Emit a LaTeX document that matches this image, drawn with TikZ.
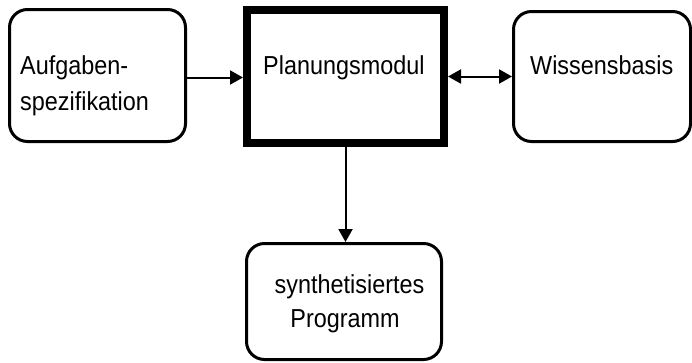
\documentclass[tikz,border=0pt]{standalone}
\usepackage{fontspec}
\setmainfont{Liberation Sans}[FakeStretch=0.9]
\usepackage{tikz}
\usetikzlibrary{arrows.meta}
\pgfkeys{tikz/roundbox/.style={draw,line width=3pt,rounded corners=\roundboxradius,inner sep=0pt}}
\pgfkeys{tikz/planbox/.style={draw,line width=8pt,inner sep=0pt}}
\pgfkeys{tikz/boxtext/.style={font=\fontsize{26}{36}\selectfont,inner sep=0pt}}
\pgfkeys{tikz/flowtip/.style={line width=2pt,-{Triangle[length=13pt,width=14pt]}}}
\newcommand\roundboxradius{18pt}

\begin{document}
\begin{tikzpicture}[x=1pt,y=-1pt]
    \useasboundingbox (0,0) rectangle (692,362);
    % boxes
    \node[roundbox,minimum width=176pt,minimum height=132pt] (spec) at (97.5,75.5) {};
    \node[planbox,minimum width=197pt,minimum height=133pt] (plan) at (345.5,76.5) {};
    \node[roundbox,minimum width=177pt,minimum height=130pt] (wissen) at (602,76.5) {};
    \node[roundbox,minimum width=195pt,minimum height=116pt] (prog) at (344,301.5) {};
    % texts
    \node[boxtext,anchor=base west] (specA) at (20,74) {Aufgaben-};
    \node[boxtext,anchor=base west] (specB) at (20,110) {spezifikation};
    \node[boxtext,anchor=base west] (planT) at (263,74) {Planungsmodul};
    \node[boxtext,anchor=base west] (wissenT) at (530,74) {Wissensbasis};
    \node[boxtext,anchor=base] (progA) at (349.5,293) {synthetisiertes};
    \node[boxtext,anchor=base] (progB) at (345,327) {Programm};
    % arrows
    \draw[flowtip] (spec.east |- 0,77.5) -- (plan.west |- 0,77.5);
    \draw[flowtip,{Triangle[length=13pt,width=14pt]}-{Triangle[length=13pt,width=14pt]}] (plan.east |- 0,76.5) -- (wissen.west |- 0,76.5);
    \draw[flowtip] (plan.south) -- (plan.south |- prog.north);
\end{tikzpicture}
\end{document}
